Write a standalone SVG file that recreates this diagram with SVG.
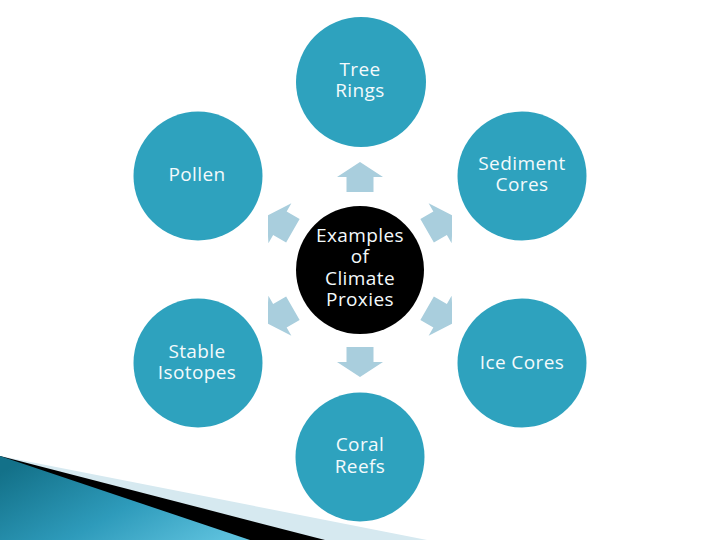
<svg xmlns="http://www.w3.org/2000/svg" xmlns:xlink="http://www.w3.org/1999/xlink" width="720" height="540" viewBox="0 0 720 540">
  <style>
    .node { fill: #2ea2be; }
    .hub { fill: #000000; }
    .lbl { font-family: "Open Sans", "Liberation Sans", sans-serif; font-size: 19px; fill: #f4fafc; text-anchor: middle; letter-spacing: 0.4px; }
    .arrow { fill: #a9cedd; }
  </style>
  <defs>
    <linearGradient id="bandGrad" x1="0" y1="0.2" x2="1" y2="0.8">
      <stop offset="0" stop-color="#137189"/>
      <stop offset="0.55" stop-color="#2e9bbb"/>
      <stop offset="1" stop-color="#5cc0dc"/>
    </linearGradient>
    <polygon id="arr" points="0,-107.5 23,-92.5 13.5,-92.5 13.5,-77.5 -13.5,-77.5 -13.5,-92.5 -23,-92.5"/>
    <clipPath id="arrClip">
      <rect x="268" y="0" width="184" height="540"/>
    </clipPath>
  </defs>

  <rect width="720" height="540" fill="#ffffff"/>

  <g id="decoration">
    <polygon points="0,456 427,540 0,540" fill="#d6e9f0"/>
    <polygon points="0,456 325,540 0,540" fill="#000000"/>
    <polygon points="0,456 250,540 0,540" fill="url(#bandGrad)"/>
  </g>

  <g id="connectors" class="arrow" clip-path="url(#arrClip)">
    <use xlink:href="#arr" transform="translate(360 269.5)"/>
    <use xlink:href="#arr" transform="translate(360 269.5) rotate(60)"/>
    <use xlink:href="#arr" transform="translate(360 269.5) rotate(120)"/>
    <use xlink:href="#arr" transform="translate(360 269.5) rotate(180)"/>
    <use xlink:href="#arr" transform="translate(360 269.5) rotate(240)"/>
    <use xlink:href="#arr" transform="translate(360 269.5) rotate(300)"/>
  </g>

  <g id="center">
    <circle class="hub" cx="360" cy="270" r="64"/>
    <text class="lbl" x="360" y="241.5">Examples</text>
    <text class="lbl" x="360" y="263">of</text>
    <text class="lbl" x="360" y="284.5">Climate</text>
    <text class="lbl" x="360" y="306">Proxies</text>
  </g>

  <g id="tree-rings">
    <circle class="node" cx="361" cy="82" r="65"/>
    <text class="lbl" x="360" y="75.5">Tree</text>
    <text class="lbl" x="360" y="97">Rings</text>
  </g>

  <g id="sediment-cores">
    <circle class="node" cx="522" cy="176" r="64.5"/>
    <text class="lbl" x="522" y="169.5">Sediment</text>
    <text class="lbl" x="522" y="191">Cores</text>
  </g>

  <g id="ice-cores">
    <circle class="node" cx="522" cy="363" r="64.5"/>
    <text class="lbl" x="522" y="368.5">Ice Cores</text>
  </g>

  <g id="coral-reefs">
    <circle class="node" cx="360" cy="457" r="64.5"/>
    <text class="lbl" x="360" y="451">Coral</text>
    <text class="lbl" x="360" y="472.5">Reefs</text>
  </g>

  <g id="stable-isotopes">
    <circle class="node" cx="198" cy="363" r="64.5"/>
    <text class="lbl" x="197" y="357.5">Stable</text>
    <text class="lbl" x="197" y="379">Isotopes</text>
  </g>

  <g id="pollen">
    <circle class="node" cx="198" cy="176" r="64.5"/>
    <text class="lbl" x="197" y="180.5">Pollen</text>
  </g>
</svg>
